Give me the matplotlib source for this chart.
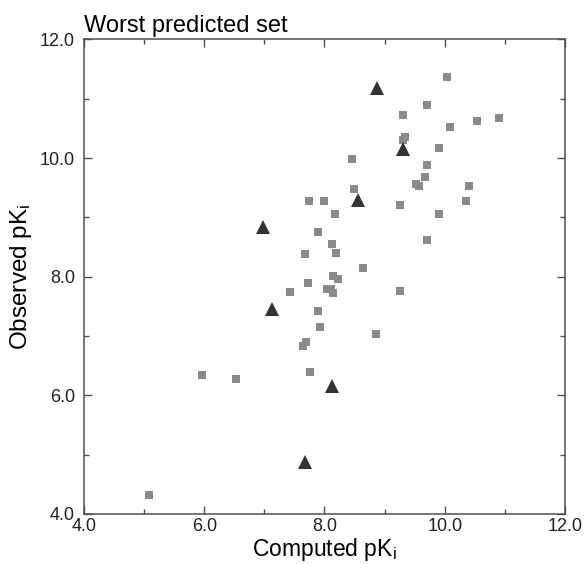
import matplotlib
matplotlib.use("Agg")
import matplotlib.pyplot as plt
from matplotlib.ticker import MultipleLocator, FormatStrFormatter

plt.rcParams['font.family'] = ['Liberation Sans', 'DejaVu Sans']
plt.rcParams['mathtext.fontset'] = 'custom'
plt.rcParams['mathtext.rm'] = 'Liberation Sans'
plt.rcParams['mathtext.it'] = 'Liberation Sans'

# computed vs observed pKi, grey squares
sq_x = [10.03, 9.70, 9.30, 10.53, 10.90, 10.08, 9.34, 9.30, 9.91, 8.45,
        9.70, 9.67, 9.52, 9.58, 10.41, 8.49, 7.75, 7.99, 10.36, 9.26,
        8.17, 9.91, 7.90, 9.71, 8.13, 7.67, 8.19, 8.64, 8.14, 8.23,
        7.72, 7.42, 8.05, 8.11, 8.14, 9.26, 7.90, 7.92, 8.86, 7.69,
        7.64, 5.97, 6.53, 7.76, 5.08]
sq_y = [11.37, 10.89, 10.72, 10.63, 10.68, 10.52, 10.36, 10.31, 10.17, 9.98,
        9.89, 9.68, 9.57, 9.53, 9.53, 9.48, 9.28, 9.28, 9.28, 9.21,
        9.05, 9.05, 8.76, 8.62, 8.55, 8.38, 8.40, 8.15, 8.01, 7.97,
        7.90, 7.74, 7.80, 7.79, 7.72, 7.76, 7.42, 7.16, 7.04, 6.90,
        6.83, 6.35, 6.28, 6.40, 4.32]

# worst predicted ones, dark triangles
tri_x = [8.87, 9.31, 8.56, 6.98, 7.13, 8.13, 7.67]
tri_y = [11.18, 10.16, 9.29, 8.84, 7.46, 6.16, 4.87]

fig = plt.figure(figsize=(5.86, 5.64), dpi=100)
ax = fig.add_axes([0.1433, 0.0887, 0.8208, 0.8413])

ax.plot(sq_x, sq_y, 's', color='#8a8a8a', markersize=5.4, markeredgewidth=0)
ax.plot(tri_x, tri_y, '^', color='#333333', markersize=10, markeredgewidth=0)

ax.set_xlim(4, 12)
ax.set_ylim(4, 12)
for axis in [ax.xaxis, ax.yaxis]:
    axis.set_major_locator(MultipleLocator(2))
    axis.set_minor_locator(MultipleLocator(1))
    axis.set_major_formatter(FormatStrFormatter('%.1f'))

ax.tick_params(which='both', direction='in', top=True, right=True,
               colors='#505050', labelcolor='#222222', labelsize=13, width=1)
ax.tick_params(which='major', length=6)
ax.tick_params(which='minor', length=3.5)
ax.tick_params(axis='x', pad=3)
ax.tick_params(axis='y', pad=6.5)

for s in ax.spines.values():
    s.set_color('#505050')
    s.set_linewidth(1.1)

ax.set_xlabel('Computed pK$_\\mathrm{i}$', fontsize=16.5, labelpad=0.5)
ax.set_ylabel('Observed pK$_\\mathrm{i}$', fontsize=17.5, labelpad=4)
ax.set_title('Worst predicted set', loc='left', fontsize=17, pad=5.5)

fig.savefig('out.png', dpi=100)
